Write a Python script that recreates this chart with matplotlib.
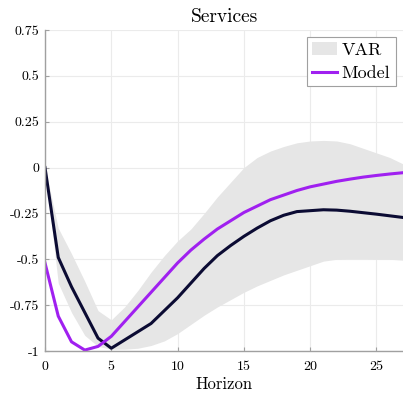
import matplotlib
matplotlib.use('Agg')
import matplotlib.pyplot as plt
import numpy as np

plt.rcParams['font.family'] = 'cmr10'
plt.rcParams['axes.unicode_minus'] = False
plt.rcParams['mathtext.fontset'] = 'cm'

# horizons 0..27
horizon = np.arange(28)

var_point = [0.0, -0.49, -0.65, -0.79, -0.93, -0.985, -0.94, -0.895, -0.85, -0.78,
             -0.71, -0.63, -0.55, -0.48, -0.425, -0.375, -0.33, -0.29, -0.26, -0.24,
             -0.235, -0.23, -0.232, -0.238, -0.246, -0.254, -0.263, -0.272]

var_upper = [0.0, -0.33, -0.47, -0.62, -0.78, -0.83, -0.76, -0.67, -0.57, -0.48,
             -0.40, -0.335, -0.25, -0.16, -0.08, 0.0, 0.055, 0.09, 0.115, 0.135,
             0.145, 0.148, 0.145, 0.13, 0.105, 0.08, 0.055, 0.02]

var_lower = [0.0, -0.63, -0.79, -0.915, -0.975, -0.99, -0.99, -0.985, -0.97, -0.945,
             -0.905, -0.855, -0.805, -0.76, -0.72, -0.68, -0.645, -0.615, -0.585, -0.56,
             -0.535, -0.51, -0.5, -0.497, -0.497, -0.5, -0.5, -0.505]

model = [-0.52, -0.81, -0.95, -0.995, -0.975, -0.92, -0.84, -0.76, -0.68, -0.6,
         -0.52, -0.45, -0.39, -0.335, -0.29, -0.245, -0.21, -0.175, -0.15, -0.125,
         -0.105, -0.09, -0.075, -0.063, -0.052, -0.043, -0.035, -0.028]

yticks = [-1, -0.75, -0.5, -0.25, 0, 0.25, 0.5, 0.75]
ytick_labels = ['-1', '-0.75', '-0.5', '-0.25', '0', '0.25', '0.5', '0.75']
xticks = [0, 5, 10, 15, 20, 25]

fig = plt.figure(figsize=(4.03, 3.94), dpi=100)
ax = fig.add_axes([45/403, 43/394, 358/403, 321/394])

ax.fill_between(horizon, var_lower, var_upper, color='#e6e6e6', linewidth=0, label='VAR')
ax.plot(horizon, var_point, color='#0b0b33', linewidth=2.2)
ax.plot(horizon, model, color='#a020f0', linewidth=2.2, label='Model')

ax.set_xlim(0, 27)
ax.set_ylim(-1, 0.75)
ax.set_xticks(xticks)
ax.set_xticklabels([str(t) for t in xticks])
ax.set_yticks(yticks)
ax.set_yticklabels(ytick_labels)
ax.tick_params(direction='in', length=3, color='#a0a0a0', labelsize=10)
ax.tick_params(axis='x', pad=7)
ax.tick_params(axis='y', pad=4)
ax.grid(True, color='#ebebeb', linewidth=0.8)
ax.set_axisbelow(True)

for s in ['top', 'right']:
    ax.spines[s].set_visible(False)
for s in ['left', 'bottom']:
    ax.spines[s].set_color('#a0a0a0')
    ax.spines[s].set_linewidth(1.0)

ax.set_title('Services', fontsize=14, pad=6)
ax.set_xlabel('Horizon', fontsize=12, labelpad=3)

leg = ax.legend(loc='upper right', bbox_to_anchor=(0.98, 0.978), borderaxespad=0,
                fontsize=13, fancybox=False, framealpha=1, edgecolor='#a0a0a0',
                handlelength=1.4, handletextpad=0.25, borderpad=0.3, labelspacing=0.4)
leg.get_frame().set_linewidth(0.8)

plt.savefig('out.png', dpi=100)
plt.close()
